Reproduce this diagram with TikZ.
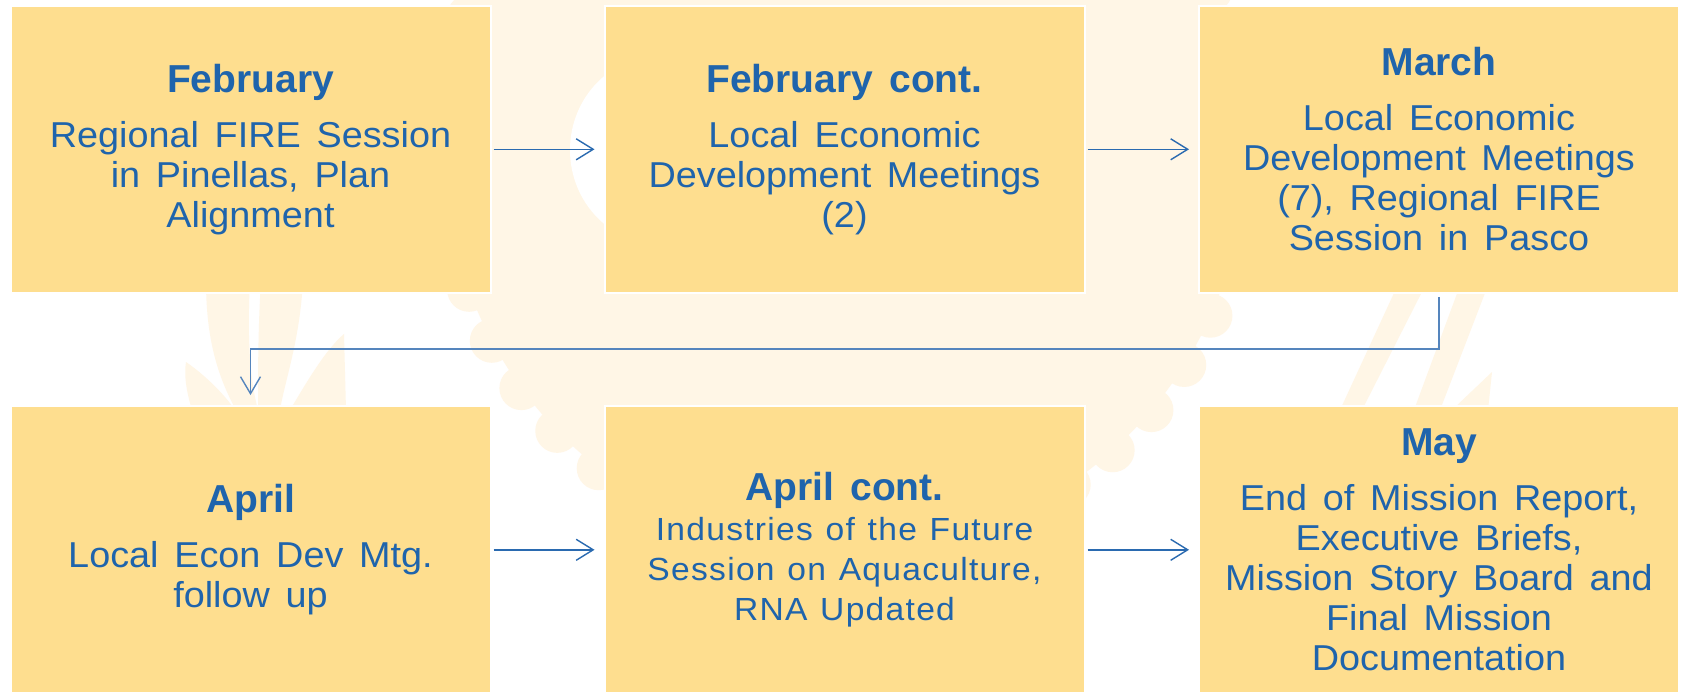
\documentclass[tikz,border=0pt]{standalone}
\usepackage{fontspec}
\setmainfont{Liberation Sans}
\newfontfamily\bodyfam[FakeStretch=1.05,WordSpace=1.5]{Liberation Sans}
\newfontfamily\bodyls[FakeStretch=1.05,LetterSpace=4,WordSpace=1.2]{Liberation Sans}
\newfontfamily\titlefam[WordSpace=1.5]{Liberation Sans}
\usetikzlibrary{arrows.meta}
\definecolor{boxfill}{HTML}{FEDE8F}
\definecolor{txtblue}{HTML}{1F64AC}
\definecolor{arrblue}{HTML}{2A6AB0}
\definecolor{connblue}{HTML}{5585BD}
\definecolor{wm}{HTML}{FFF6E6}
\newcommand{\ttl}[1]{{\titlefam\fontsize{39}{45}\selectfont\bfseries #1}}
\tikzset{
  monthbox/.style={draw=white, line width=2pt, fill=boxfill,
    minimum width=480pt, minimum height=287.5pt, inner sep=0pt,
    align=center, text=txtblue,
    font=\bodyfam\fontsize{36}{40}\selectfont},
  flow/.style={draw=arrblue, line width=1.4pt,
    -{Straight Barb[length=17pt,width=21pt,line width=1.4pt]},
    shorten <=2pt, shorten >=9pt},
  conn/.style={draw=connblue, line width=1.5pt,
    -{Straight Barb[length=17pt,width=20pt,line width=1.4pt]},
    shorten <=3pt, shorten >=10pt},
  wmark/.style={fill=wm, draw=none}
}
\begin{document}
\begin{tikzpicture}[x=1pt,y=-1pt]
\useasboundingbox (0,0) rectangle (1683,692);
\clip (0,0) rectangle (1683,692);
\fill[white] (0,0) rectangle (1683,692);
% watermark (faint emblem)
\fill[wmark] (845,153) circle (400);
\foreach \a in {0,8,...,352} { \fill[wmark] (845,153) ++(\a:400) circle (22); }
\fill[white] (662,150) ellipse (92 and 95);
% left flames
\fill[wmark] (206,280) -- (250,280) .. controls (247,340) and (250,380) .. (258,410) -- (236,410) .. controls (214,370) and (206,330) .. cycle;
\fill[wmark] (261,280) -- (303,280) .. controls (300,340) and (285,380) .. (280,410) -- (258,410) .. controls (258,370) and (258,330) .. cycle;
\fill[wmark] (186,362) .. controls (205,375) and (225,395) .. (235,410) -- (192,410) .. controls (186,390) and (184,375) .. cycle;
\fill[wmark] (344,334) -- (346,410) -- (290,410) .. controls (305,385) and (325,350) .. cycle;
% right flames
\fill[wmark] (1400,280) -- (1428,280) -- (1362,410) -- (1340,410) -- cycle;
\fill[wmark] (1462,280) -- (1490,280) -- (1440,410) -- (1414,410) -- cycle;
\fill[wmark] (1492,372) -- (1488,410) -- (1452,410) -- cycle;
% boxes
\node[monthbox] (feb)  at (250.5,149.3) {\ttl{February}\\[15pt]Regional FIRE Session\\in Pinellas, Plan\\Alignment};
\node[monthbox] (febc) at (844.5,149.3) {\ttl{February cont.}\\[15pt]Local Economic\\Development Meetings\\(2)};
\node[monthbox] (mar)  at (1439,149.3) {\ttl{March}\\[15pt]Local Economic\\Development Meetings\\(7), Regional FIRE\\Session in Pasco};
\node[monthbox] (apr)  at (250.5,549.8) {\ttl{April}\\[15pt]Local Econ Dev Mtg.\\follow up};
\node[monthbox,font=\bodyls\fontsize{32}{40}\selectfont] (aprc) at (844.5,549.8) {\ttl{April cont.}\\Industries of the Future\\Session on Aquaculture,\\RNA Updated};
\node[monthbox] (may)  at (1439,549.8) {\ttl{May}\\[15pt]End of Mission Report,\\Executive Briefs,\\Mission Story Board and\\Final Mission\\Documentation};
% connectors
\draw[flow] (feb) -- (febc);
\draw[flow] (febc) -- (mar);
\draw[flow] (apr) -- (aprc);
\draw[flow] (aprc) -- (may);
\coordinate (turn) at (0,349);
\draw[conn] (mar.south) -- (mar.south |- turn) -| (apr.north);
\end{tikzpicture}
\end{document}
